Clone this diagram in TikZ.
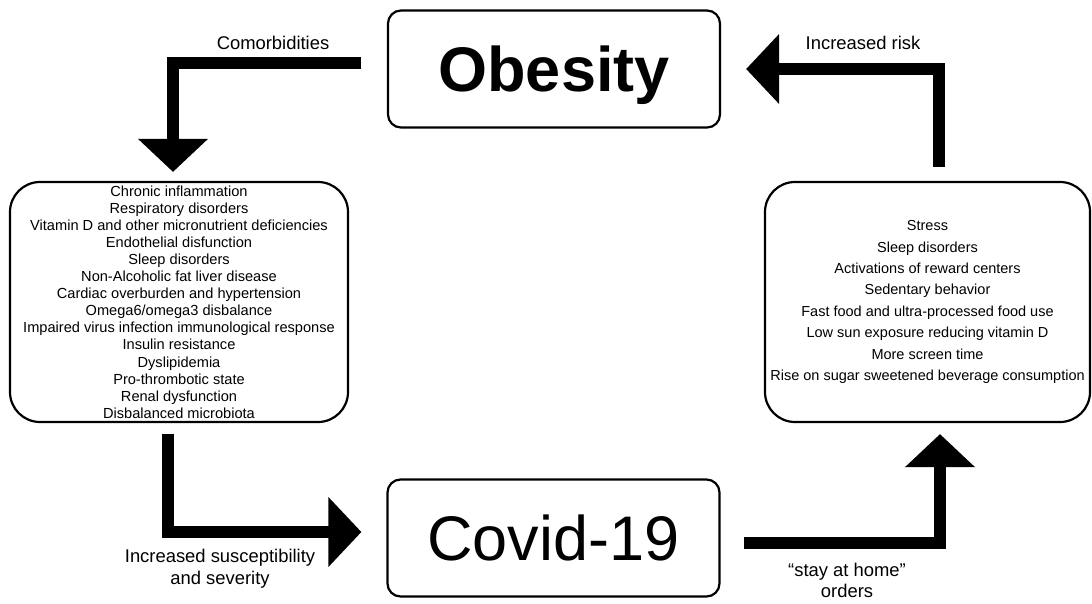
\documentclass[tikz,border=0pt]{standalone}
\usepackage{fontspec}
\setmainfont{Liberation Sans}
\usetikzlibrary{arrows.meta}

\begin{document}
\begin{tikzpicture}[x=1pt,y=-1pt,
    titlebox/.style={draw,line width=2.2pt,rounded corners=13pt,minimum width=332pt,minimum height=117pt,inner sep=0pt},
    listbox/.style={draw,line width=2.2pt,rounded corners=30pt,minimum height=240pt,inner sep=0pt,align=center},
    fat/.style={line width=11.5pt,line join=miter,-{Triangle[length=33pt,width=68pt]}},
    lbl/.style={align=center,font=\fontsize{18.4}{22}\selectfont}]
    \useasboundingbox (0,0) rectangle (1092,603);

    \node[titlebox,text depth=0pt,font=\fontsize{63}{70}\selectfont\bfseries] (ob) at (554,69)    {Obesity};
    \node[titlebox,font=\fontsize{63}{70}\selectfont]                          (cv) at (553.5,538) {Covid-19};
    \node[listbox,minimum width=338pt,font=\fontsize{14.6}{17.1}\selectfont]   (lb) at (179,302)
        {Chronic inflammation\\Respiratory disorders\\Vitamin D and other micronutrient deficiencies\\
         Endothelial disfunction\\Sleep disorders\\Non-Alcoholic fat liver disease\\
         Cardiac overburden and hypertension\\Omega6/omega3 disbalance\\
         Impaired virus infection immunological response\\Insulin resistance\\Dyslipidemia\\
         Pro-thrombotic state\\Renal dysfunction\\Disbalanced microbiota};
    \node[listbox,minimum width=325pt,font=\fontsize{14.5}{21.4}\selectfont]   (rb) at (927.5,302)
        {Stress\\Sleep disorders\\Activations of reward centers\\Sedentary behavior\\
         Fast food and ultra-processed food use\\Low sun exposure reducing vitamin D\\
         More screen time\\Rise on sugar sweetened beverage consumption};

    % connectors
    \draw[fat] ([xshift=-26pt,yshift=6pt]ob.west) -| ([xshift=-6pt,yshift=9pt]lb.north);
    \draw[fat] ([xshift=-11pt,yshift=-11pt]lb.south) |- ([xshift=-25pt,yshift=6pt]cv.west);
    \draw[fat] ([xshift=23pt,yshift=-5pt]cv.east) -| ([xshift=12.5pt,yshift=-11pt]rb.south);
    \draw[fat] ([xshift=11.5pt,yshift=14pt]rb.north) |- ([xshift=25pt]ob.east);

    % labels
    \node[lbl] (cm) at (273,43)  {Comorbidities};
    \node[lbl] (ir) at (863,43)  {Increased risk};
    \node[lbl] (su) at (220,569) {Increased susceptibility\\and severity};
    \node[lbl,font=\fontsize{18.4}{21}\selectfont] (sh) at (847,580) {“stay at home”\\orders};
\end{tikzpicture}
\end{document}
